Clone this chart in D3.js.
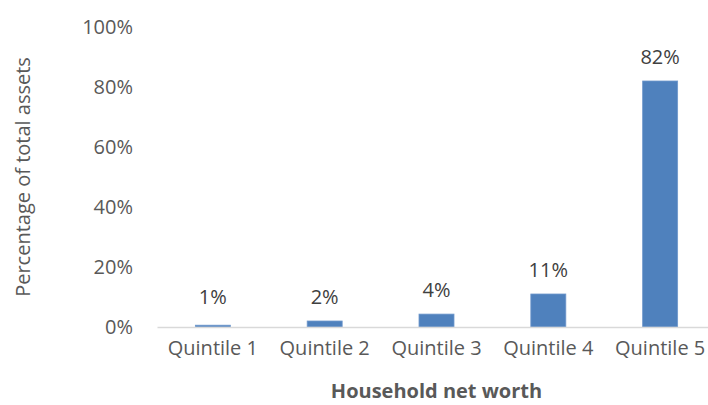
<!DOCTYPE html>
<html>
<head>
<meta charset="utf-8">
<script src="https://cdn.jsdelivr.net/npm/d3@7"></script>
<style>
  body { margin: 0; background: #fff; }
  text { font-family: "Open Sans", sans-serif; }
</style>
</head>
<body>
<div class="chart"></div>
<script>
// data (bar heights estimated, labels rounded)
var categories = ["Quintile 1", "Quintile 2", "Quintile 3", "Quintile 4", "Quintile 5"];
var shares = [0.6, 2, 4.3, 11, 82];
var yTicks = [0, 20, 40, 60, 80, 100];

var width = 708, height = 405;
var margin = {top: 27, right: -8, bottom: 78, left: 157};

var svg = d3.select(".chart").append("svg")
    .attr("width", width)
    .attr("height", height);

var x = d3.scaleBand()
    .domain(categories)
    .range([margin.left, width - margin.right])
    .paddingInner(0.687)
    .paddingOuter(0.343);

var y = d3.scaleLinear()
    .domain([0, 100])
    .range([height - margin.bottom, margin.top]);

// y tick labels (no axis line in the original)
svg.append("g")
    .selectAll("text")
    .data(yTicks)
  .enter().append("text")
    .attr("x", 133)
    .attr("y", function(d) { return y(d); })
    .attr("dy", "0.35em")
    .attr("text-anchor", "end")
    .attr("font-size", 20)
    .attr("fill", "#595959")
    .text(function(d) { return d + "%"; });

// bars
svg.append("g")
    .selectAll("rect")
    .data(shares)
  .enter().append("rect")
    .attr("x", function(d, i) { return x(categories[i]); })
    .attr("y", function(d) { return y(d); })
    .attr("width", x.bandwidth())
    .attr("height", function(d) { return y(0) - y(d); })
    .attr("fill", "#4f81bd")
    .attr("stroke", "#6f98cc")
    .attr("stroke-width", 0.8);

// value labels
svg.append("g")
    .selectAll("text")
    .data(shares)
  .enter().append("text")
    .attr("x", function(d, i) { return x(categories[i]) + x.bandwidth() / 2; })
    .attr("y", function(d) { return Math.min(y(d), y(2)) - 17; })
    .attr("text-anchor", "middle")
    .attr("font-size", 20)
    .attr("fill", "#404040")
    .text(function(d) { return Math.round(d) + "%"; });

// x axis
var xAxis = svg.append("g")
    .attr("transform", "translate(0," + y(0) + ")")
    .call(d3.axisBottom(x).tickSize(0).tickPadding(14));
xAxis.select(".domain")
    .attr("stroke", "#d9d9d9")
    .attr("stroke-width", 1.5);
xAxis.selectAll("text")
    .attr("font-family", "Open Sans")
    .attr("font-size", 20)
    .attr("fill", "#595959");

// axis titles
svg.append("text")
    .attr("x", (margin.left + width - margin.right) / 2)
    .attr("y", 398)
    .attr("text-anchor", "middle")
    .attr("font-size", 20)
    .attr("font-weight", "bold")
    .attr("fill", "#595959")
    .text("Household net worth");

svg.append("text")
    .attr("transform", "translate(30," + y(50) + ") rotate(-90)")
    .attr("text-anchor", "middle")
    .attr("font-size", 20)
    .attr("fill", "#595959")
    .text("Percentage of total assets");
</script>
</body>
</html>
